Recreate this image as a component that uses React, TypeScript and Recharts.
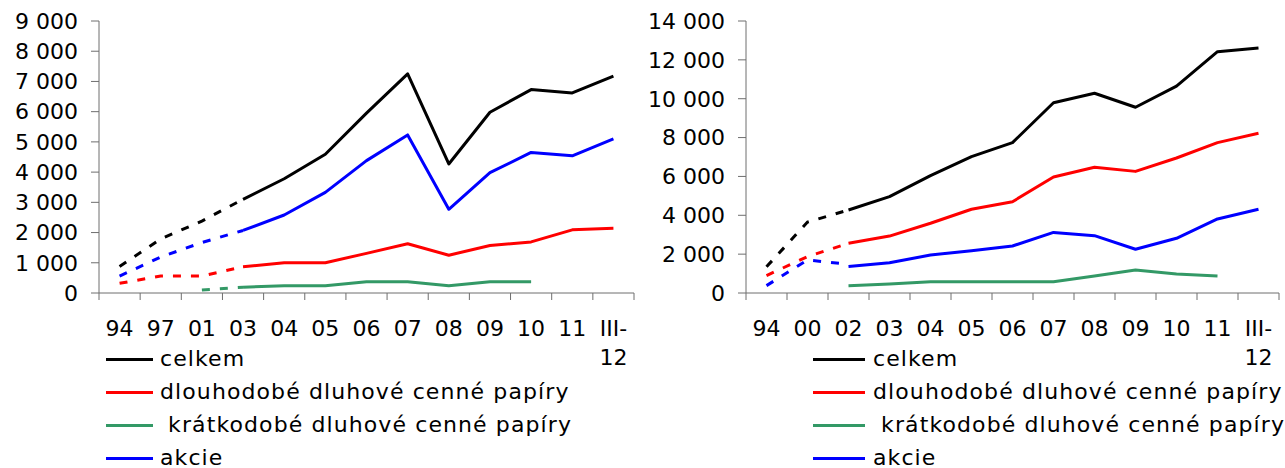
import { LineChart, Line, XAxis, YAxis, Legend } from "recharts";

const FONT = "'DejaVu Sans', Verdana, sans-serif";
const AXIS = "#6e6e6e";

// left panel
const LEFT_CATS = ["94", "97", "01", "03", "04", "05", "06", "07", "08", "09", "10", "11", "III-12"];
const LEFT_TOTAL = [null, null, null, 3100, 3780, 4590, 5950, 7250, 4270, 5980, 6730, 6620, 7175];
const LEFT_TOTAL_EARLY = [880, 1790, 2380, 3100];
const LEFT_LONG = [null, null, null, 870, 1000, 1000, 1310, 1630, 1250, 1570, 1690, 2090, 2140];
const LEFT_LONG_EARLY = [320, 560, 560, 870];
const LEFT_SHORT = [null, null, null, 190, 240, 240, 370, 370, 240, 370, 370, null, null];
const LEFT_SHORT_EARLY = [null, null, 100, 190];
const LEFT_SHARES = [null, null, null, 2070, 2580, 3330, 4380, 5230, 2770, 3980, 4650, 4540, 5100];
const LEFT_SHARES_EARLY = [560, 1190, 1670, 2070];
const LEFT_TICKS = [0, 1000, 2000, 3000, 4000, 5000, 6000, 7000, 8000, 9000];

// right panel
const RIGHT_CATS = ["94", "00", "02", "03", "04", "05", "06", "07", "08", "09", "10", "11", "III-12"];
const RIGHT_TOTAL = [null, null, 4270, 4960, 6040, 7020, 7740, 9790, 10280, 9560, 10650, 12420, 12610];
const RIGHT_TOTAL_EARLY = [1350, 3650, 4270];
const RIGHT_LONG = [null, null, 2560, 2930, 3590, 4310, 4700, 5970, 6470, 6260, 6950, 7740, 8220];
const RIGHT_LONG_EARLY = [900, 1870, 2560];
const RIGHT_SHORT = [null, null, 375, 460, 580, 580, 580, 580, 875, 1180, 980, 875, null];
const RIGHT_SHORT_EARLY: (number | null)[] = [];
const RIGHT_SHARES = [null, null, 1370, 1560, 1955, 2180, 2420, 3120, 2950, 2250, 2815, 3810, 4310];
const RIGHT_SHARES_EARLY = [380, 1700, 1480];
const RIGHT_TICKS = [0, 2000, 4000, 6000, 8000, 10000, 12000, 14000];

const SERIES = [
  { key: "celkem", name: "celkem", color: "#000000" },
  { key: "dlouho", name: "dlouhodobé dluhové cenné papíry", color: "#ff0000" },
  { key: "kratko", name: " krátkodobé dluhové cenné papíry", color: "#339966" },
  { key: "akcie", name: "akcie", color: "#0000ff" },
];

const fmt = (v: number) => String(v).replace(/\B(?=(\d{3})+(?!\d))/g, " ");

function buildRows(cats: string[], solid: (number | null)[][], early: (number | null)[][]) {
  return cats.map((cat, i) => {
    const row: any = { cat };
    SERIES.forEach((s, k) => {
      row[s.key] = solid[k][i] ?? null;
      row[s.key + "E"] = early[k][i] ?? null;
    });
    return row;
  });
}

function CatTick(props: any) {
  const { x, y, payload, index, bw, count } = props;
  const v = String(payload.value);
  const lines = v.includes("-") ? [v.slice(0, v.indexOf("-") + 1), v.slice(v.indexOf("-") + 1)] : [v];
  return (
    <g>
      <line x1={x - bw / 2} x2={x - bw / 2} y1={y} y2={y + 7} stroke={AXIS} />
      {index === count - 1 && <line x1={x + bw / 2} x2={x + bw / 2} y1={y} y2={y + 7} stroke={AXIS} />}
      <text x={x} y={y + 43} textAnchor="middle" fontSize={22} fontFamily={FONT} fill="#000">
        {lines.map((l, i) => (
          <tspan key={i} x={x} dy={i === 0 ? 0 : 29}>
            {l}
          </tspan>
        ))}
      </text>
    </g>
  );
}

function LegendBox({ lineX, lineW, textX }: { lineX: number; lineW: number; textX: number }) {
  const rows = [359, 392, 425, 458];
  return (
    <div style={{ position: "relative", width: 0, height: 0 }}>
      {SERIES.map((s, i) => (
        <div key={s.key}>
          <div style={{ position: "absolute", left: lineX, top: rows[i] - 1.5, width: lineW, height: 3, background: s.color }} />
          <div
            style={{
              position: "absolute",
              left: textX,
              top: rows[i] - 14,
              lineHeight: "28px",
              fontSize: 22,
              fontFamily: FONT,
              letterSpacing: 1.1,
              whiteSpace: "pre",
              color: "#000",
            }}
          >
            {s.name}
          </div>
        </div>
      ))}
    </div>
  );
}

type PanelProps = {
  left: number;
  width: number;
  yWidth: number;
  marginRight: number;
  cats: string[];
  solid: (number | null)[][];
  early: (number | null)[][];
  yTicks: number[];
  legend: { lineX: number; lineW: number; textX: number };
};

function Panel({ left, width, yWidth, marginRight, cats, solid, early, yTicks, legend }: PanelProps) {
  const rows = buildRows(cats, solid, early);
  const bw = (width - yWidth - marginRight) / cats.length;
  return (
    <div style={{ position: "absolute", left, top: 0 }}>
      <LineChart width={width} height={468} data={rows} margin={{ top: 21, right: marginRight, bottom: 0, left: 0 }}>
        <XAxis
          dataKey="cat"
          interval={0}
          height={175}
          padding={{ left: bw / 2, right: bw / 2 }}
          tickLine={false}
          tickSize={0}
          tickMargin={0}
          stroke={AXIS}
          tick={(p: any) => <CatTick {...p} bw={bw} count={cats.length} />}
        />
        <YAxis
          width={yWidth}
          domain={[0, yTicks[yTicks.length - 1]]}
          ticks={yTicks}
          interval={0}
          tickSize={8}
          tickMargin={13}
          stroke={AXIS}
          tick={{ fill: "#000", fontSize: 22, fontFamily: FONT }}
          tickFormatter={fmt}
        />
        {SERIES.map((s) => (
          <Line
            key={s.key + "E"}
            dataKey={s.key + "E"}
            stroke={s.color}
            strokeWidth={3}
            strokeDasharray="8 10"
            dot={false}
            legendType="none"
            isAnimationActive={false}
          />
        ))}
        {SERIES.map((s) => (
          <Line
            key={s.key}
            dataKey={s.key}
            name={s.name}
            stroke={s.color}
            strokeWidth={3}
            strokeLinejoin="round"
            dot={false}
            isAnimationActive={false}
          />
        ))}
        <Legend
          layout="vertical"
          align="center"
          verticalAlign="middle"
          wrapperStyle={{ position: "absolute", left: 0, top: 0, width: 0, height: 0 }}
          content={() => <LegendBox {...legend} />}
        />
      </LineChart>
    </div>
  );
}

export default function App() {
  return (
    <div style={{ position: "absolute", left: 0, top: 0, width: 1285, height: 468, background: "#fff" }}>
      <Panel
        left={0}
        width={650}
        yWidth={99}
        marginRight={16}
        cats={LEFT_CATS}
        solid={[LEFT_TOTAL, LEFT_LONG, LEFT_SHORT, LEFT_SHARES]}
        early={[LEFT_TOTAL_EARLY, LEFT_LONG_EARLY, LEFT_SHORT_EARLY, LEFT_SHARES_EARLY]}
        yTicks={LEFT_TICKS}
        legend={{ lineX: 106, lineW: 47, textX: 160 }}
      />
      <Panel
        left={640}
        width={645}
        yWidth={106}
        marginRight={6}
        cats={RIGHT_CATS}
        solid={[RIGHT_TOTAL, RIGHT_LONG, RIGHT_SHORT, RIGHT_SHARES]}
        early={[RIGHT_TOTAL_EARLY, RIGHT_LONG_EARLY, RIGHT_SHORT_EARLY, RIGHT_SHARES_EARLY]}
        yTicks={RIGHT_TICKS}
        legend={{ lineX: 173, lineW: 52, textX: 233 }}
      />
    </div>
  );
}
